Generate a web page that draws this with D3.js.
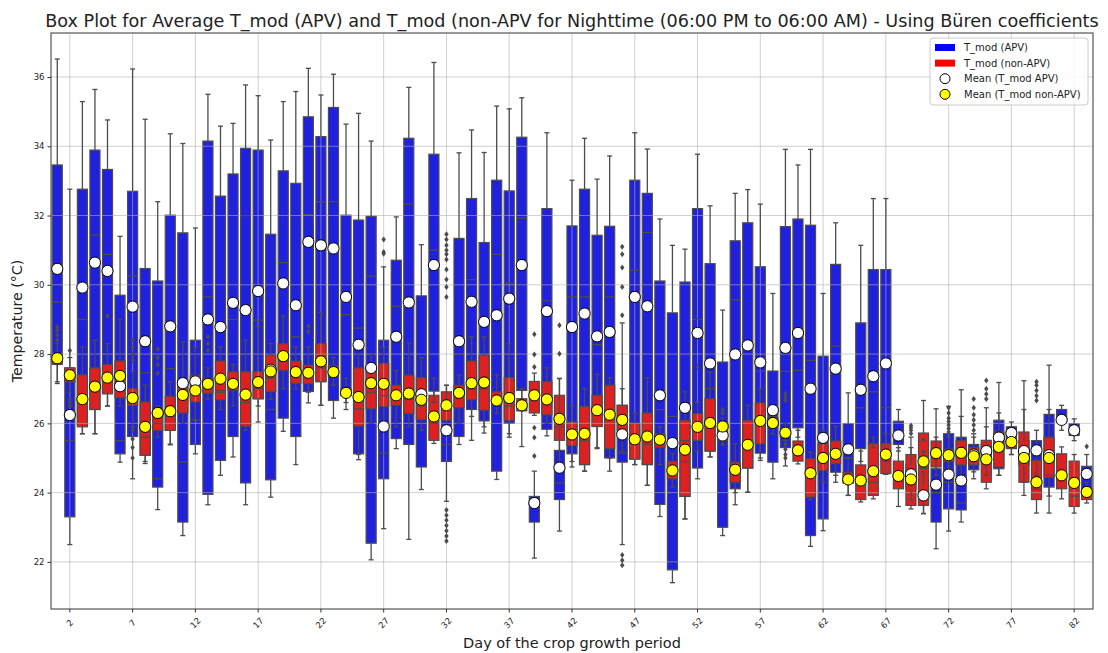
<!DOCTYPE html>
<html>
<head>
<meta charset="utf-8">
<script src="https://cdn.jsdelivr.net/npm/d3@7"></script>
<style>
body{margin:0;background:#fff;}
text{font-family:"DejaVu Sans",sans-serif;fill:#222;}
</style>
</head>
<body>
<div id="chart"></div>
<script>
const days = d3.range(1, 84);
const tickDays = [2,7,12,17,22,27,32,37,42,47,52,57,62,67,72,77,82];
const yTicks = [22,24,26,28,30,32,34,36];

// T_mod (APV)
const apvLow  = [27.2,22.5,25.7,25.7,26.5,24.88,24.4,24.84,23.51,25.38,22.76,25.12,23.65,24.5,25.03,23.65,26.04,23.87,25.77,24.81,26.59,26.52,26.15,26.4,24.95,22.06,22.96,25.27,22.65,24.09,26.6,23.75,25.39,25.51,25.72,24.38,25.6,26.7,22.11,25.64,22.89,24.74,24.62,25.27,24.62,22.5,24.81,24.21,23.31,21.4,23.24,24.4,25.03,22.76,23.65,24.01,24.93,24.4,24.77,25.6,22.45,22.9,24.3,23.92,24.9,25.3,24.53,25.2,23.8,23.4,22.38,22.89,23.15,24.4,24.5,24.5,25.1,24.3,24.5,23.41,25.8,25.5,24.0];
const apvQ1   = [27.75,23.3,25.95,26.4,26.9,25.12,25.62,25.08,24.16,25.8,23.15,25.39,23.95,24.93,25.62,24.28,26.71,24.37,26.15,25.62,26.92,27.2,26.66,26.98,25.12,22.54,24.4,25.56,25.39,24.74,26.93,24.9,25.62,26.4,26.07,24.62,26.0,26.95,23.15,25.83,23.8,25.12,24.81,25.91,25.0,24.88,24.97,24.81,23.66,21.77,23.89,24.71,25.2,23.0,24.11,24.71,25.14,24.88,25.3,25.87,22.76,23.24,24.59,24.28,25.27,25.41,25.41,25.39,24.1,23.7,23.15,23.53,23.5,24.66,24.9,24.69,25.3,24.8,24.9,24.16,26.05,25.65,24.11];
const apvMed  = [29.5,25.5,29.0,31.44,30.88,25.5,30.25,27.46,24.4,27.58,24.88,26.1,29.65,26.95,29.0,32.0,28.98,26.4,30.64,28.5,32.03,32.4,32.4,29.14,28.75,30.25,25.14,29.38,32.33,26.5,31.0,25.39,28.0,30.15,29.0,30.88,30.05,31.92,23.6,29.54,24.28,29.65,29.65,28.27,29.65,25.14,30.42,31.51,26.4,26.2,25.5,29.0,27.0,25.5,29.57,28.3,27.5,26.2,27.5,27.53,27.82,25.5,28.23,25.0,26.45,26.91,26.45,25.6,24.4,23.9,24.0,24.3,23.7,25.0,25.1,25.4,25.7,25.2,25.2,24.5,26.2,25.8,24.5];
const apvQ3   = [33.46,27.6,32.76,33.89,33.33,29.7,32.7,30.47,30.11,32.01,31.5,28.4,34.15,32.56,33.2,33.94,33.89,31.46,33.29,32.93,34.85,34.28,35.12,32.01,31.87,31.98,28.4,30.71,34.23,29.68,33.77,26.4,31.34,32.49,31.22,33.02,32.71,34.26,23.89,32.2,25.22,31.7,32.76,31.43,31.69,26.52,33.02,32.64,30.11,29.19,30.08,32.2,30.61,27.77,31.27,31.79,30.52,27.51,31.68,31.9,31.72,27.94,30.59,25.99,28.9,30.44,30.44,26.06,24.8,24.2,24.69,25.7,25.6,25.39,25.4,26.09,25.9,25.5,25.5,26.26,26.4,25.99,24.76];
const apvHigh = [36.52,32.76,35.29,35.64,34.76,31.4,36.23,34.78,32.4,34.36,34.08,31.64,35.5,34.58,34.66,35.77,35.46,34.18,35.29,35.58,36.25,35.48,36.08,34.64,34.95,34.15,30.52,31.96,35.7,31.16,36.42,27.1,33.81,34.47,33.82,35.16,35.08,35.4,24.62,34.39,27.29,33.02,34.23,33.05,33.72,28.9,34.39,33.92,31.9,31.14,31.03,33.77,32.28,29.27,32.64,32.75,32.33,29.75,33.91,33.46,33.91,29.75,31.79,26.88,31.14,32.49,32.49,26.4,25.3,24.6,25.6,26.49,26.97,25.7,25.9,27.18,26.04,26.4,25.8,27.68,26.52,26.13,25.1];
const apvMean = [30.46,26.24,29.92,30.64,30.4,27.07,29.37,28.37,26.3,28.8,27.16,27.21,29.0,28.78,29.48,29.27,29.82,27.55,30.04,29.41,31.24,31.14,31.05,29.65,28.27,27.6,25.91,28.5,29.49,26.84,30.57,25.8,28.37,29.51,28.93,29.12,29.6,30.57,23.7,29.24,24.72,28.78,29.17,28.51,28.64,25.68,29.65,29.38,26.81,25.43,26.45,28.61,27.73,25.65,27.99,28.25,27.76,26.38,28.18,28.61,27.0,25.58,27.58,25.25,26.97,27.36,27.73,25.65,24.53,23.92,24.23,24.52,24.35,25.1,25.2,25.59,25.72,25.2,25.22,25.08,26.1,25.8,24.54];
const apvOutliers = [[5,29.1],[27,30.9],[27,30.95],[27,31.31],
  [32,31.46],[32,31.31],[32,31.14],[32,31.0],[32,30.88],[32,30.73],[32,30.44],[32,30.15],[32,29.94],[32,29.65],
  [32,23.5],[32,23.35],[32,23.2],[32,23.05],[32,22.9],[32,22.75],[32,22.6],
  [41,28.83],[41,28.01],
  [46,31.1],[46,30.88],[46,30.5],[46,29.94],[46,29.12],[46,22.2],[46,22.05],[46,21.9],
  [70,25.53],[70,25.17],
  [79,26.66],[79,26.8],[79,26.95],[79,27.1],[79,27.2],[83,25.33]];

// T_mod (non-APV)
const nonLow  = [27.15,26.9,25.7,25.7,26.5,26.5,25.9,24.9,25.6,25.4,26.0,26.1,26.7,26.4,26.5,25.8,26.5,26.7,27.0,27.0,26.9,26.52,27.1,26.6,25.1,26.0,26.0,25.9,25.9,25.8,25.42,25.7,26.0,26.2,25.9,26.3,25.7,25.33,26.23,26.0,24.74,24.9,24.62,25.3,25.0,25.2,24.81,24.21,24.81,24.16,23.24,25.2,25.03,25.7,24.0,24.01,25.0,25.7,25.5,24.83,23.8,24.3,24.5,23.92,23.73,23.82,24.53,23.6,23.53,23.39,24.5,24.7,24.5,24.6,24.11,24.5,25.1,23.92,23.41,23.9,23.82,23.41,23.7];
const nonQ1   = [27.7,27.2,25.9,26.4,26.85,26.74,26.52,25.08,25.8,25.8,26.3,26.62,26.87,26.68,26.95,25.92,26.71,26.92,27.53,27.16,27.15,27.21,27.35,26.8,25.92,26.42,26.49,26.52,26.28,26.11,25.51,26.09,26.45,26.68,26.38,26.57,26.09,26.36,26.3,26.25,25.51,25.36,24.81,25.91,25.27,25.8,24.97,24.81,25.3,24.4,23.89,25.51,25.2,25.85,24.3,24.71,25.41,25.9,25.6,24.91,23.87,24.64,24.84,24.28,23.8,23.92,24.55,24.11,23.63,23.63,24.74,24.9,24.8,24.8,24.3,24.74,25.27,24.3,23.8,24.44,24.11,23.6,23.8];
const nonMed  = [27.85,27.4,26.6,27.0,27.2,27.1,26.7,25.6,26.0,26.2,26.7,27.0,27.05,26.9,27.1,26.6,27.0,27.3,27.8,27.4,27.4,27.6,27.5,26.9,26.42,26.9,26.8,26.8,26.7,26.6,26.0,26.5,26.8,27.0,27.0,26.7,26.5,26.5,26.8,26.6,25.9,25.7,25.5,26.3,26.2,26.1,25.5,25.4,25.5,24.6,24.9,25.9,26.0,25.9,24.6,25.3,26.0,26.0,25.7,25.1,24.5,25.0,25.1,24.4,24.3,24.3,24.9,24.4,24.3,24.7,25.0,25.05,25.1,25.0,24.9,25.2,25.45,25.0,24.1,24.9,24.5,23.9,24.0];
const nonQ3   = [28.0,27.6,27.4,27.6,27.7,27.8,27.0,26.62,26.23,26.78,27.05,27.39,27.3,27.8,27.49,27.49,27.49,27.97,28.3,27.8,27.68,28.3,27.65,27.0,27.6,27.53,27.73,27.1,27.39,27.32,26.81,26.91,27.1,27.8,27.97,26.91,27.32,26.71,27.21,27.21,26.81,26.04,26.49,26.81,27.1,26.52,26.0,26.3,25.7,24.9,26.09,26.28,26.71,26.0,24.88,26.09,26.59,26.15,25.85,25.49,24.98,25.41,25.49,24.59,24.8,25.41,25.41,24.91,25.1,25.72,25.49,25.25,25.5,25.3,25.51,25.75,25.7,25.75,24.93,25.6,25.12,24.91,24.11];
const nonHigh = [28.3,27.9,28.2,28.4,28.3,29.0,27.5,27.1,26.5,27.2,28.35,28.2,27.6,28.2,27.7,28.4,28.8,28.3,29.1,28.2,28.2,29.2,27.9,27.3,28.0,28.0,28.2,27.53,28.32,27.9,27.3,27.1,27.4,28.5,28.5,27.4,28.3,27.0,27.45,27.6,27.3,26.5,27.0,27.42,27.32,27.0,26.3,27.32,25.9,25.13,26.91,26.6,27.48,26.15,25.41,26.52,27.0,26.4,26.0,25.8,25.17,25.8,25.91,25.0,25.2,25.6,25.7,25.3,25.6,26.66,26.42,25.6,26.2,25.6,26.45,26.3,25.9,27.23,25.5,26.4,25.32,25.1,24.3];
const nonMean = [27.88,27.39,26.7,27.06,27.32,27.37,26.73,25.9,26.3,26.35,26.82,26.95,27.14,27.29,27.14,26.83,27.19,27.5,27.94,27.48,27.46,27.79,27.48,26.88,26.76,27.16,27.14,26.81,26.86,26.68,26.2,26.52,26.88,27.16,27.18,26.66,26.73,26.52,26.81,26.69,26.13,25.68,25.7,26.38,26.25,26.1,25.54,25.62,25.53,24.64,25.24,25.9,26.01,25.91,24.66,25.38,26.07,26.01,25.73,25.22,24.56,25.0,25.12,24.38,24.35,24.62,25.1,24.48,24.38,24.9,25.14,25.08,25.15,25.05,24.96,25.32,25.46,25.0,24.3,25.0,24.5,24.28,24.02];
const nonOutliers = [[1,28.4],[1,28.55],[1,28.69],[1,28.78],
  [2,28.1],[2,26.7],[2,26.6],[2,26.5],
  [7,28.4],[7,28.2],[7,28.0],[7,27.82],[7,25.8],[7,25.55],[7,25.3],[7,25.0],
  [9,28.15],[9,27.9],[9,27.7],[9,27.45],
  [13,28.5],[13,28.3],[13,28.1],[21,28.8],[21,28.65],
  [39,28.57],[39,27.99],[39,27.63],[39,25.87],[39,25.59],[39,25.06],
  [52,27.63],[54,26.4],[54,26.3],[54,25.5],[54,25.4],
  [59,26.86],[59,26.76],[59,26.66],[59,25.4],[59,25.25],[59,25.1],[59,25.0],
  [69,25.71],[69,25.8],[69,25.87],[69,25.94],
  [72,25.75],[72,25.85],[72,25.95],[72,26.05],[72,26.15],[72,26.3],[72,26.45],
  [74,25.8],[74,25.95],[74,26.1],[74,26.25],[74,26.45],[74,26.7],
  [75,26.7],[75,26.85],[75,27.0],[75,27.24]];

const W = 1108, H = 653;
const m = {left:51, right:1093, top:33, bottom:609};
const lineCol = "#4c4c4c";

const svg = d3.select("#chart").append("svg")
  .attr("width", W).attr("height", H);

const x = d3.scaleBand().domain(days).range([m.left, m.right])
  .paddingInner(0.2).paddingOuter(0.1);
const y = d3.scaleLinear().domain([20.64, 37.27]).range([m.bottom, m.top]);
const cx = d => x(d) + x.bandwidth()/2;
const bw = x.bandwidth();

function series(low, q1, med, q3, high, mean){
  return days.map((d,i)=>({day:d, low:low[i], q1:q1[i], med:med[i], q3:q3[i], high:high[i], mean:mean[i]}));
}
const apv = series(apvLow, apvQ1, apvMed, apvQ3, apvHigh, apvMean);
const non = series(nonLow, nonQ1, nonMed, nonQ3, nonHigh, nonMean);

function drawBoxes(data, fill){
  svg.append("g").selectAll("rect").data(data).enter().append("rect")
    .attr("x", d=>x(d.day)).attr("width", bw)
    .attr("y", d=>y(d.q3)).attr("height", d=>y(d.q1)-y(d.q3))
    .attr("fill", fill).attr("stroke", lineCol).attr("stroke-width", 1.2);
}

function drawLines(data, outliers){
  const g = svg.append("g").attr("stroke", lineCol).attr("stroke-width", 1.3);
  g.selectAll(".wl").data(data).enter().append("line")
    .attr("x1", d=>cx(d.day)).attr("x2", d=>cx(d.day))
    .attr("y1", d=>y(d.q1)).attr("y2", d=>y(d.low));
  g.selectAll(".wh").data(data).enter().append("line")
    .attr("x1", d=>cx(d.day)).attr("x2", d=>cx(d.day))
    .attr("y1", d=>y(d.q3)).attr("y2", d=>y(d.high));
  g.selectAll(".cl").data(data).enter().append("line")
    .attr("x1", d=>cx(d.day)-bw/4).attr("x2", d=>cx(d.day)+bw/4)
    .attr("y1", d=>y(d.low)).attr("y2", d=>y(d.low));
  g.selectAll(".ch").data(data).enter().append("line")
    .attr("x1", d=>cx(d.day)-bw/4).attr("x2", d=>cx(d.day)+bw/4)
    .attr("y1", d=>y(d.high)).attr("y2", d=>y(d.high));
  g.selectAll(".md").data(data).enter().append("line")
    .attr("x1", d=>x(d.day)).attr("x2", d=>x(d.day)+bw)
    .attr("y1", d=>y(d.med)).attr("y2", d=>y(d.med));
  svg.append("g").selectAll("path").data(outliers).enter().append("path")
    .attr("d", "M0,-3L2.2,0L0,3L-2.2,0Z")
    .attr("transform", d=>`translate(${cx(d[0])},${y(d[1])})`)
    .attr("fill", lineCol);
}

function drawMeans(data, fill){
  svg.append("g").selectAll("circle").data(data).enter().append("circle")
    .attr("cx", d=>cx(d.day)).attr("cy", d=>y(d.mean)).attr("r", 5.6)
    .attr("fill", fill).attr("stroke", "#000").attr("stroke-width", 1);
}

drawBoxes(apv, "#2020df");
drawBoxes(non, "#df2020");

// grid
const grid = svg.append("g").attr("stroke", "#b0b0b0").attr("stroke-opacity", 0.6).attr("stroke-width", 1);
grid.selectAll(".gx").data(tickDays).enter().append("line")
  .attr("x1", d=>cx(d)).attr("x2", d=>cx(d)).attr("y1", m.top).attr("y2", m.bottom);
grid.selectAll(".gy").data(yTicks).enter().append("line")
  .attr("x1", m.left).attr("x2", m.right).attr("y1", d=>y(d)).attr("y2", d=>y(d));

drawLines(apv, apvOutliers);
drawLines(non, nonOutliers);
drawMeans(apv, "#ffffff");
drawMeans(non, "#ffff00");

// axes
const yAxis = svg.append("g").attr("transform", `translate(${m.left},0)`)
  .call(d3.axisLeft(y).tickValues(yTicks).tickSize(3.5).tickPadding(3));
yAxis.select(".domain").remove();
yAxis.selectAll("text").style("font-size", "8.5px").style("font-family", "DejaVu Sans").attr("fill", "#222");
yAxis.selectAll("line").attr("stroke", "#333");

const xAxis = svg.append("g").attr("transform", `translate(0,${m.bottom})`)
  .call(d3.axisBottom(x).tickValues(tickDays).tickSize(3.5));
xAxis.select(".domain").remove();
xAxis.selectAll("line").attr("stroke", "#333");
xAxis.selectAll("text")
  .attr("y", 0).attr("dy", null)
  .attr("transform", "translate(0,14) rotate(-45)")
  .attr("text-anchor", "middle").attr("dominant-baseline", "central")
  .style("font-size", "8.5px").style("font-family", "DejaVu Sans").attr("fill", "#222");

svg.append("rect").attr("x", m.left).attr("y", m.top)
  .attr("width", m.right-m.left).attr("height", m.bottom-m.top)
  .attr("fill", "none").attr("stroke", "#333").attr("stroke-width", 1);

// titles
svg.append("text").attr("x", 572).attr("y", 27)
  .attr("text-anchor", "middle").style("font-size", "17.6px")
  .text("Box Plot for Average T_mod (APV) and T_mod (non-APV for Nighttime (06:00 PM to 06:00 AM) - Using Büren coefficients");
svg.append("text").attr("x", (m.left+m.right)/2).attr("y", 648)
  .attr("text-anchor", "middle").style("font-size", "14.5px")
  .text("Day of the crop growth period");
svg.append("text").attr("transform", `translate(22,${(m.top+m.bottom)/2}) rotate(-90)`)
  .attr("text-anchor", "middle").style("font-size", "14.2px")
  .text("Temperature (°C)");

// legend
const legendItems = [
  {label:"T_mod (APV)", type:"patch", color:"#0000ff"},
  {label:"T_mod (non-APV)", type:"patch", color:"#ff0000"},
  {label:"Mean (T_mod APV)", type:"dot", color:"#ffffff"},
  {label:"Mean (T_mod non-APV)", type:"dot", color:"#ffff00"}
];
const lg = svg.append("g").attr("transform", "translate(930,38)");
lg.append("rect").attr("width", 158).attr("height", 67).attr("rx", 3)
  .attr("fill", "#fff").attr("fill-opacity", 0.85).attr("stroke", "#ccc");
const li = lg.selectAll(".li").data(legendItems).enter().append("g")
  .attr("transform", (d,i)=>`translate(0,${9.5 + i*15.6})`);
li.filter(d=>d.type==="patch").append("rect")
  .attr("x", 5).attr("y", -3.5).attr("width", 20).attr("height", 7).attr("fill", d=>d.color);
li.filter(d=>d.type==="dot").append("circle")
  .attr("cx", 15).attr("cy", 0).attr("r", 5)
  .attr("fill", d=>d.color).attr("stroke", "#000").attr("stroke-width", 1);
li.append("text").attr("x", 34).attr("y", 0).attr("dominant-baseline", "central")
  .style("font-size", "10px").text(d=>d.label);
</script>
</body>
</html>
